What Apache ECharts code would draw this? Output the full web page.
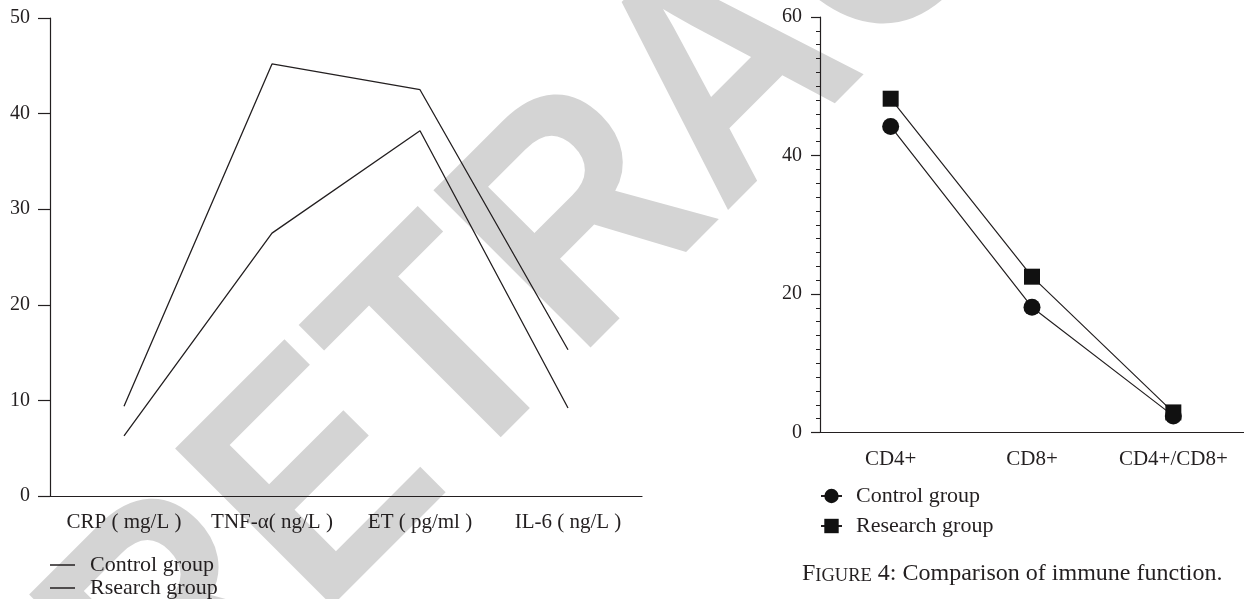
<!DOCTYPE html>
<html>
<head>
<meta charset="utf-8">
<script src="https://cdn.jsdelivr.net/npm/echarts@6/dist/echarts.min.js"></script>
<style>
html,body{margin:0;padding:0;background:#fff;}
#chart{width:1244px;height:599px;}
</style>
</head>
<body>
<div id="chart"></div>
<script>
// ---- Data ----
var leftCategories = ['CRP ( mg/L )', 'TNF-\u03b1( ng/L )', 'ET ( pg/ml )', 'IL-6 ( ng/L )'];
var leftControl = [9.4, 45.2, 42.5, 15.3];
var leftResearch = [6.3, 27.5, 38.2, 9.2];
var leftTicks = [0, 10, 20, 30, 40, 50];

var rightCategories = ['CD4+', 'CD8+', 'CD4+/CD8+'];
var rightControl = [44.2, 18.1, 2.4];
var rightResearch = [48.2, 22.5, 2.9];
var rightTicks = [0, 20, 40, 60];

var captionParts = ['F', 'IGURE', ' 4: Comparison of immune function.'];
var watermarkText = 'RETRACTED';

// ---- Chart ----
var FONT = '"Liberation Serif", "DejaVu Serif", serif';
var INK = '#231f20';
var chart = echarts.init(document.getElementById('chart'), null, {renderer: 'canvas'});

var option = {
  backgroundColor: '#ffffff',
  animation: false,
  textStyle: {fontFamily: FONT, color: INK},
  grid: [
    {left: 50, top: 18, width: 592, bottom: 103, containLabel: false},
    {left: 820, top: 17, width: 426, bottom: 166.5, containLabel: false}
  ],
  xAxis: [
    {
      gridIndex: 0, type: 'category', data: leftCategories, boundaryGap: true,
      axisLine: {lineStyle: {color: INK, width: 1.2}},
      axisTick: {alignWithLabel: true, length: 12, lineStyle: {color: INK, width: 1.2}},
      axisLabel: {color: INK, fontFamily: FONT, fontSize: 21, margin: 16, interval: 0}
    },
    {
      gridIndex: 1, type: 'category', data: rightCategories, boundaryGap: true,
      axisLine: {lineStyle: {color: INK, width: 1.2}},
      axisTick: {alignWithLabel: true, length: 8, lineStyle: {color: INK, width: 1.2}},
      axisLabel: {color: INK, fontFamily: FONT, fontSize: 21, margin: 16, interval: 0}
    }
  ],
  yAxis: [
    {
      gridIndex: 0, type: 'value', min: leftTicks[0], max: leftTicks[leftTicks.length - 1], interval: leftTicks[1] - leftTicks[0],
      axisLine: {show: true, lineStyle: {color: INK, width: 1.2}},
      axisTick: {show: true, length: 12, lineStyle: {color: INK, width: 1.2}},
      axisLabel: {color: INK, fontFamily: FONT, fontSize: 20, margin: 20},
      splitLine: {show: false}
    },
    {
      gridIndex: 1, type: 'value', min: rightTicks[0], max: rightTicks[rightTicks.length - 1], interval: rightTicks[1] - rightTicks[0],
      axisLine: {show: true, lineStyle: {color: INK, width: 1.2}},
      axisTick: {show: true, length: 9, lineStyle: {color: INK, width: 1.2}},
      minorTick: {show: true, splitNumber: 10, length: 4, lineStyle: {color: INK, width: 1}},
      axisLabel: {color: INK, fontFamily: FONT, fontSize: 20, margin: 18},
      splitLine: {show: false},
      minorSplitLine: {show: false}
    }
  ],
  legend: [
    {
      data: ['Control group', 'Rsearch group'],
      orient: 'vertical', left: 50, top: 554, padding: 0,
      itemWidth: 25, itemHeight: 14, itemGap: 1,
      icon: 'path://M0,0 L100,0 L100,6 L0,6 Z',
      textStyle: {fontFamily: FONT, fontSize: 22, color: INK, padding: [0, 0, 0, 10]}
    },
    {
      data: ['Control group ', 'Research group'],
      orient: 'vertical', left: 820, top: 485, padding: 0,
      itemWidth: 21, itemHeight: 18, itemGap: 8,
      textStyle: {fontFamily: FONT, fontSize: 22, color: INK, padding: [0, 0, 0, 9]},
      formatter: function (n) { return n.trim(); }
    }
  ],
  series: [
    {
      name: 'Control group', type: 'line', xAxisIndex: 0, yAxisIndex: 0,
      data: leftControl, symbol: 'none',
      lineStyle: {color: INK, width: 1.3}, itemStyle: {color: INK}
    },
    {
      name: 'Rsearch group', type: 'line', xAxisIndex: 0, yAxisIndex: 0,
      data: leftResearch, symbol: 'none',
      lineStyle: {color: INK, width: 1.3}, itemStyle: {color: INK}
    },
    {
      name: 'Control group ', type: 'line', xAxisIndex: 1, yAxisIndex: 1,
      data: rightControl, symbol: 'circle', symbolSize: 17,
      lineStyle: {color: INK, width: 1.2}, itemStyle: {color: '#111'}
    },
    {
      name: 'Research group', type: 'line', xAxisIndex: 1, yAxisIndex: 1,
      data: rightResearch, symbol: 'rect', symbolSize: 16,
      lineStyle: {color: INK, width: 1.2}, itemStyle: {color: '#111'}
    }
  ],
  graphic: {
    elements: [
      {
        type: 'text', x: 733, y: 79, rotation: Math.PI / 4, scaleX: 0.885, scaleY: 1, z: -10, silent: true,
        style: {
          text: watermarkText, x: 0, y: 0,
          font: 'bold 323px "Liberation Sans", Arial, sans-serif',
          fill: '#d4d4d4', textAlign: 'center', textVerticalAlign: 'middle'
        }
      },
      {
        type: 'text', left: 802, top: 562, z: 100,
        style: {
          text: '{a|' + captionParts[0] + '}{b|' + captionParts[1] + '}{a|' + captionParts[2] + '}',
          rich: {
            a: {fontFamily: FONT, fontSize: 24, fill: INK, verticalAlign: 'bottom', lineHeight: 28},
            b: {fontFamily: FONT, fontSize: 18.5, fill: INK, verticalAlign: 'bottom', lineHeight: 28}
          }
        }
      }
    ]
  }
};
chart.setOption(option);
</script>
</body>
</html>
